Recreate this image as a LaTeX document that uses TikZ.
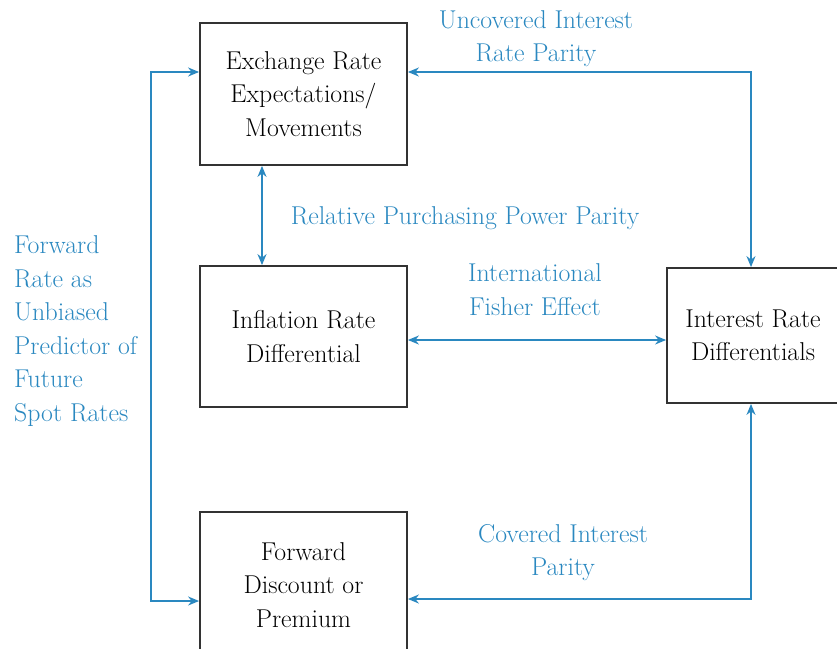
\documentclass[tikz,border=0pt]{standalone}
\usetikzlibrary{arrows.meta}
\definecolor{lblue}{HTML}{2A88C0}
\definecolor{boxgray}{HTML}{333333}
\begin{document}
\begin{tikzpicture}[x=1pt,y=-1pt,
  txt/.style={font=\fontsize{25.8}{33.5}\selectfont},
  box/.style={txt,draw=boxgray,line width=1.8pt,align=center,inner sep=0pt},
  lbl/.style={txt,text=lblue,align=center,inner sep=0pt},
  conn/.style={draw=lblue,line width=1.6pt,{Stealth[length=11pt,width=9pt]}-{Stealth[length=11pt,width=9pt]}}]
\useasboundingbox (0,0) rectangle (837,648);
\clip (0,0) rectangle (837,648);
\node[box,minimum width=207pt,minimum height=142pt] (ex) at (303.5,94) {Exchange Rate\\Expectations/\\Movements};
\node[box,minimum width=207pt,minimum height=141pt] (inf) at (303.5,336.5) {Inflation Rate\\Differential};
\node[box,minimum width=172pt,minimum height=135pt] (int) at (753,335.5) {Interest Rate\\Differentials};
\node[box,minimum width=207pt,minimum height=146pt] (fw) at (303.5,585) {Forward\\Discount or\\Premium};
% connectors
\coordinate (tl) at (151,72);
\coordinate (bl) at (151,601);
\coordinate (tr) at (751,72);
\coordinate (br) at (751,599);
\draw[conn] ([yshift=22pt]ex.west) -- (tl) -- (bl) -- ([yshift=-16pt]fw.west);
\draw[conn] ([yshift=22pt]ex.east) -- (tr) -- ([xshift=-2pt]int.north);
\draw[conn] ([xshift=-41.5pt]ex.south) -- ([xshift=-41.5pt]inf.north);
\draw[conn] ([yshift=-3.5pt]inf.east) -- ([yshift=-3.5pt]inf.east -| int.west);
\draw[conn] ([xshift=-2pt]int.south) -- (br) -- ([yshift=-14pt]fw.east);
% labels
\node[lbl] (l1) at (536,38.5) {Uncovered Interest\\Rate Parity};
\node[lbl] (l2) at (465,218) {Relative Purchasing Power Parity};
\node[lbl] (l3) at (535,289.5) {International\\Fisher Effect};
\node[lbl] (l4) at (563,552.5) {Covered Interest\\Parity};
\node[lbl,align=left,anchor=west] (l5) at (14,331) {Forward\\Rate as\\Unbiased\\Predictor of\\Future\\Spot Rates};
\end{tikzpicture}
\end{document}
